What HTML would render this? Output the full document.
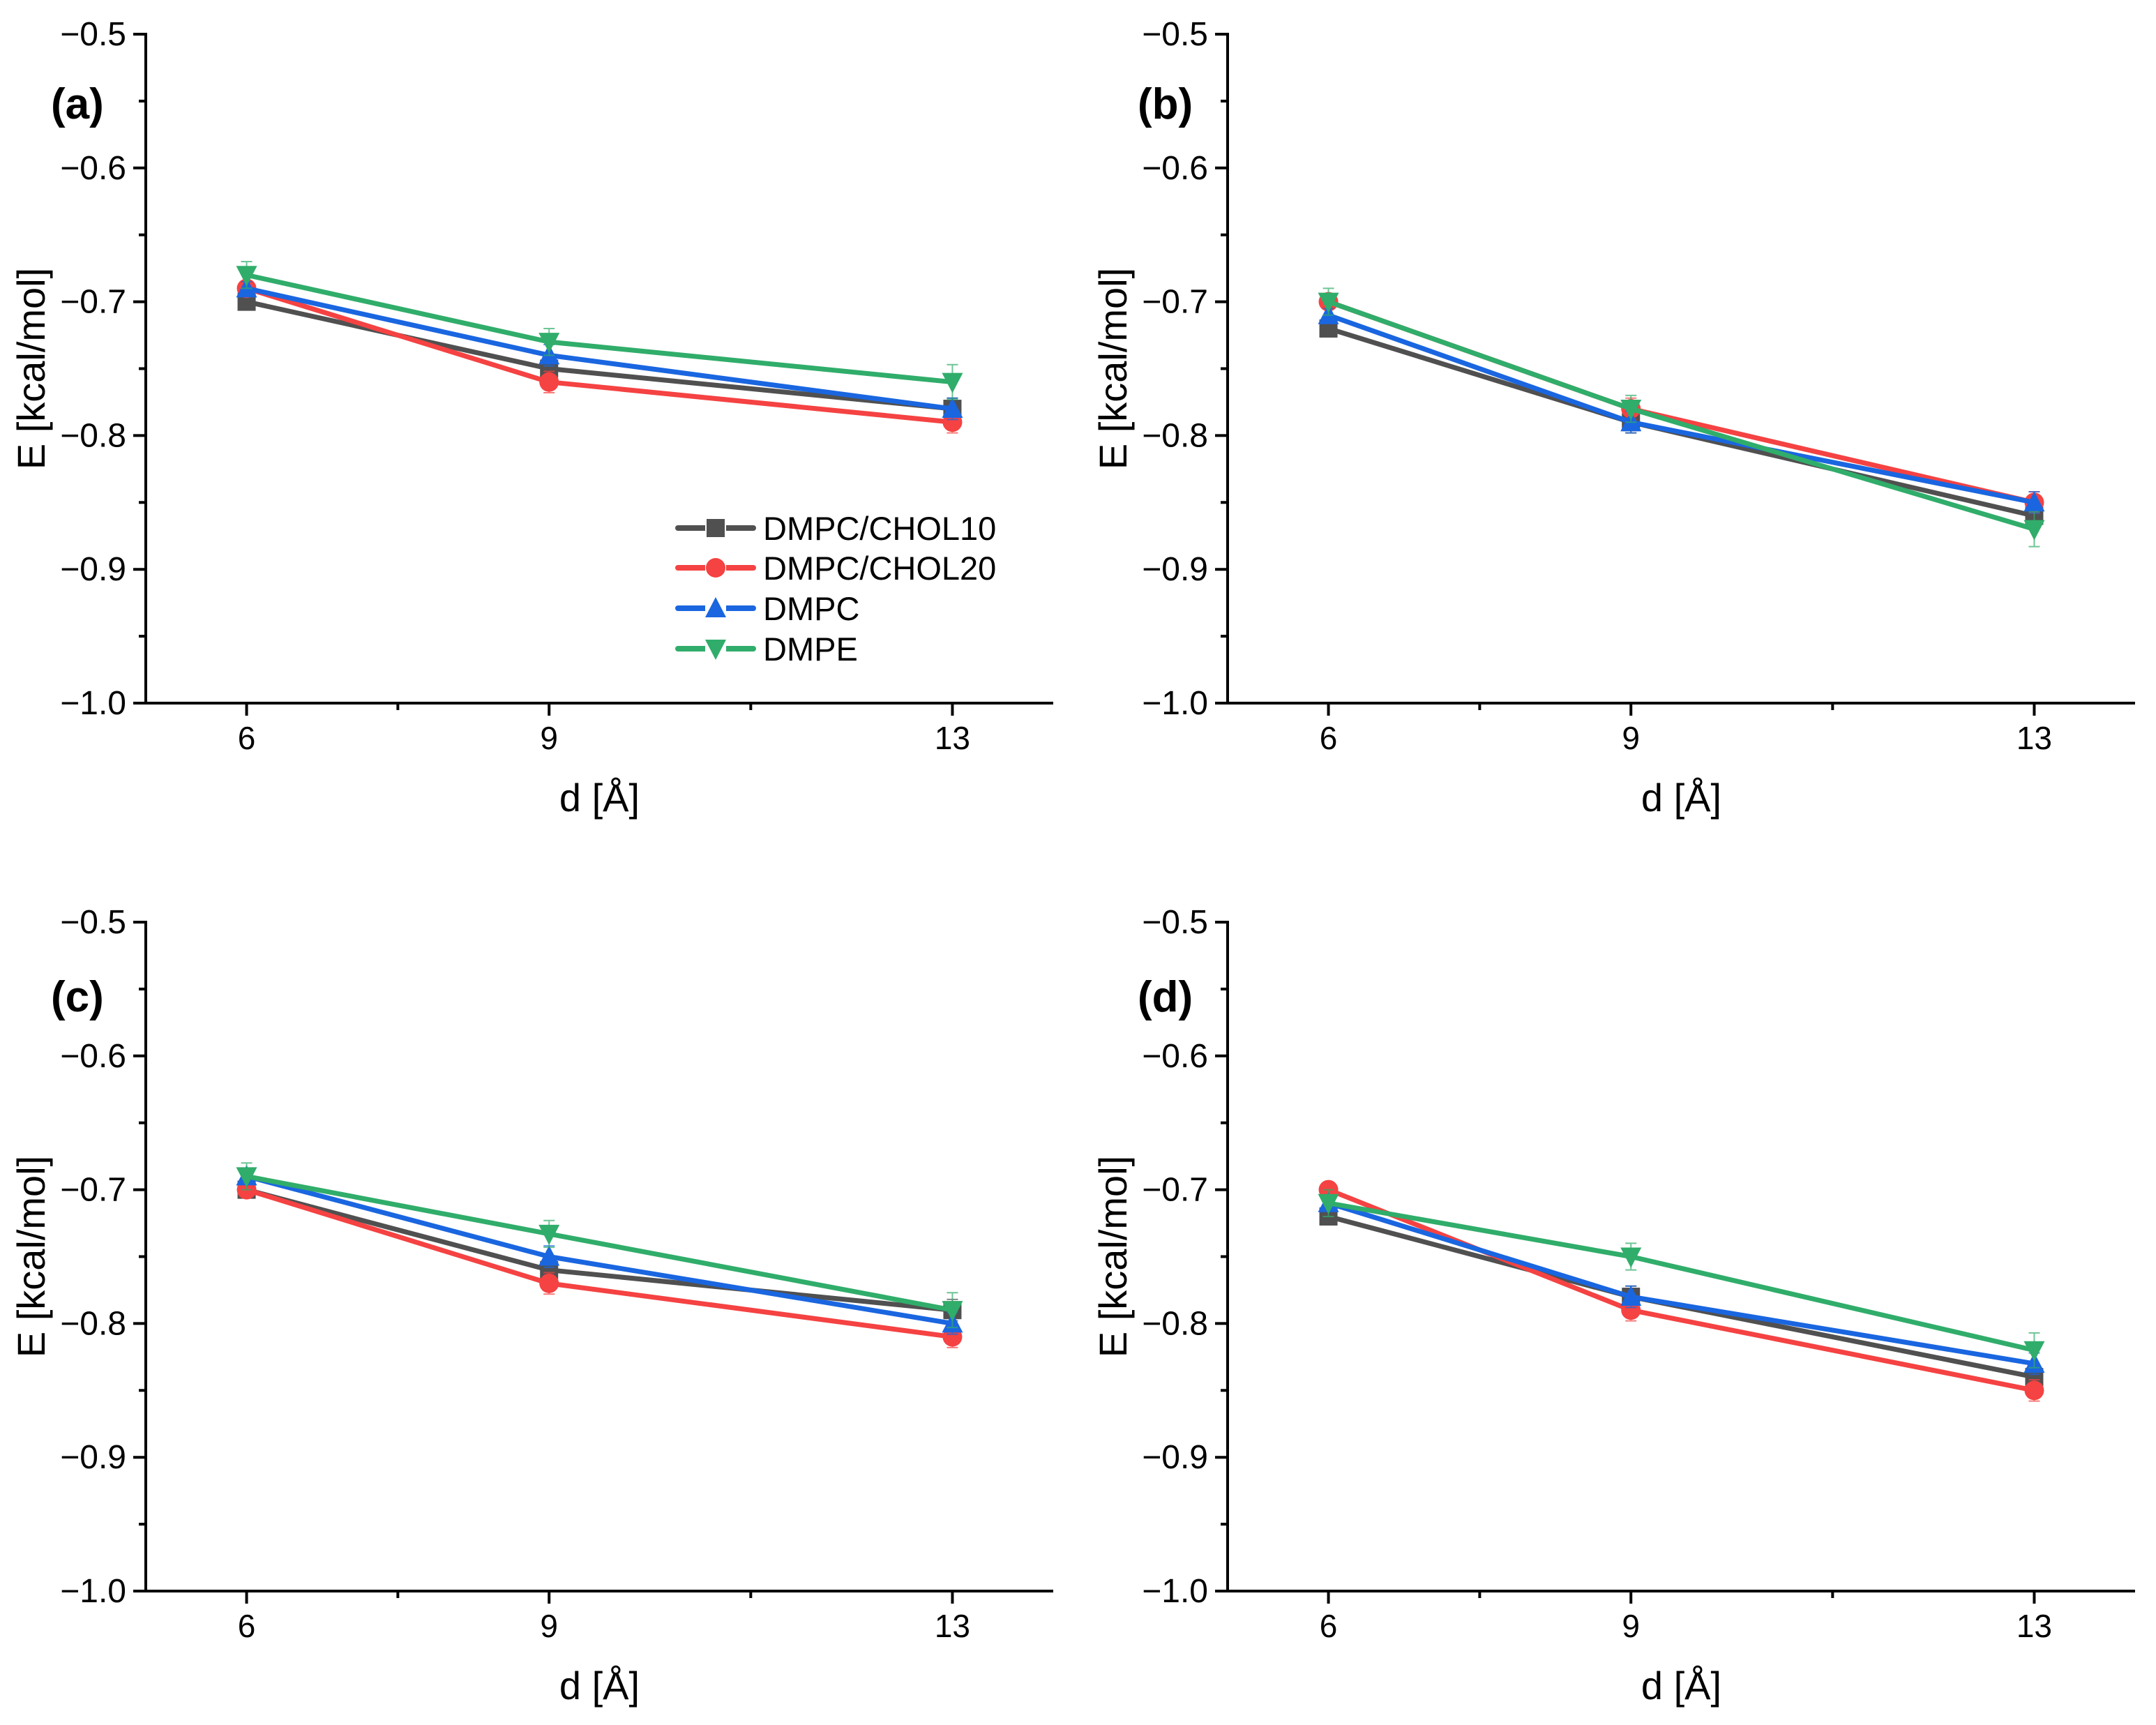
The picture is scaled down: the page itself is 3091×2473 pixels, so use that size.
<!DOCTYPE html>
<html><head><meta charset="utf-8">
<style>
html,body{margin:0;padding:0;background:#fff;}
svg{display:block;font-family:"Liberation Sans",Arial,sans-serif;}
</style></head>
<body>
<svg id="fig" width="3091" height="2473" viewBox="0 0 3091 2473" xmlns="http://www.w3.org/2000/svg"></svg>
<script>
// ---- data ----
const xCategories = [6, 9, 13];
const xTickLabels = ["6", "9", "13"];
const yTickValues = [-1.0, -0.9, -0.8, -0.7, -0.6, -0.5];
const yTickLabels = ["\u22121.0", "\u22120.9", "\u22120.8", "\u22120.7", "\u22120.6", "\u22120.5"];
const seriesNames = ["DMPC/CHOL10", "DMPC/CHOL20", "DMPC", "DMPE"];
const panelLabels = ["(a)", "(b)", "(c)", "(d)"];

const a_chol10 = [-0.70, -0.75, -0.78];
const a_chol20 = [-0.69, -0.76, -0.79];
const a_dmpc   = [-0.69, -0.74, -0.78];
const a_dmpe   = [-0.68, -0.73, -0.76];
const b_chol10 = [-0.72, -0.79, -0.86];
const b_chol20 = [-0.70, -0.78, -0.85];
const b_dmpc   = [-0.71, -0.79, -0.85];
const b_dmpe   = [-0.70, -0.78, -0.87];
const c_chol10 = [-0.70, -0.76, -0.79];
const c_chol20 = [-0.70, -0.77, -0.81];
const c_dmpc   = [-0.69, -0.75, -0.80];
const c_dmpe   = [-0.69, -0.733, -0.79];
const d_chol10 = [-0.72, -0.78, -0.84];
const d_chol20 = [-0.70, -0.79, -0.85];
const d_dmpc   = [-0.71, -0.78, -0.83];
const d_dmpe   = [-0.71, -0.75, -0.82];

const errSmall = [0.005, 0.008, 0.008];
const errDmpe  = [0.01, 0.01, 0.013];

const panelData = [
  [a_chol10, a_chol20, a_dmpc, a_dmpe],
  [b_chol10, b_chol20, b_dmpc, b_dmpe],
  [c_chol10, c_chol20, c_dmpc, c_dmpe],
  [d_chol10, d_chol20, d_dmpc, d_dmpe]
];

// ---- styles / layout ----
const colors = ["#505050", "#f54242", "#1a66e0", "#30ad6a"];
const markers = ["square", "circle", "up", "down"];
const NS = "http://www.w3.org/2000/svg";
const svg = document.getElementById("fig");
const panels = [
  {ox: 0, oy: 0}, {ox: 1551, oy: 0}, {ox: 0, oy: 1273}, {ox: 1551, oy: 1273}
];
const X0 = 5, X1 = 14, Y0 = -1.0, Y1 = -0.5;
const PL = 209, PR = 1510, PT = 49, PB = 1008;

function el(tag, attrs, parent) {
  const e = document.createElementNS(NS, tag);
  for (const k in attrs) e.setAttribute(k, attrs[k]);
  (parent || svg).appendChild(e);
  return e;
}

function marker(g, type, cx, cy, color) {
  const s = 13;
  let m;
  if (type === "square") m = el("rect", {x: cx - s, y: cy - s, width: 2 * s, height: 2 * s, fill: color}, g);
  else if (type === "circle") m = el("circle", {cx: cx, cy: cy, r: s + 1, fill: color}, g);
  else if (type === "up") m = el("polygon", {points: `${cx},${cy - s - 3} ${cx - s - 2},${cy + s} ${cx + s + 2},${cy + s}`, fill: color}, g);
  else m = el("polygon", {points: `${cx},${cy + s + 3} ${cx - s - 2},${cy - s} ${cx + s + 2},${cy - s}`, fill: color}, g);
  return m;
}

panels.forEach((p, pi) => {
  const sx = v => p.ox + PL + (v - X0) / (X1 - X0) * (PR - PL);
  const sy = v => p.oy + PT + (Y1 - v) / (Y1 - Y0) * (PB - PT);
  const g = el("g", {});
  
  

  const ax = el("g", {stroke: "#000", "stroke-width": 4, fill: "none"}, g);
  
  
  el("line", {x1: sx(X0), y1: sy(Y0), x2: sx(X0), y2: sy(Y1) - 2}, ax);
  el("line", {x1: sx(X0) - 2, y1: sy(Y0), x2: sx(X1), y2: sy(Y0)}, ax);

  yTickValues.forEach((v, i) => {
    el("line", {x1: sx(X0) - 18, y1: sy(v), x2: sx(X0), y2: sy(v)}, ax);
    const t = el("text", {x: sx(X0) - 28, y: sy(v) + 16, "text-anchor": "end", "font-size": 48, fill: "#000"}, g);
    t.textContent = yTickLabels[i];
    
    
    if (i < yTickValues.length - 1) {
      const mv = (v + yTickValues[i + 1]) / 2;
      el("line", {x1: sx(X0) - 10, y1: sy(mv), x2: sx(X0), y2: sy(mv)}, ax);
    }
  });
  xCategories.forEach((v, i) => {
    el("line", {x1: sx(v), y1: sy(Y0), x2: sx(v), y2: sy(Y0) + 18}, ax);
    const t = el("text", {x: sx(v), y: sy(Y0) + 66, "text-anchor": "middle", "font-size": 46, fill: "#000"}, g);
    t.textContent = xTickLabels[i];
    
    
  });
  [7.5, 11].forEach(v => el("line", {x1: sx(v), y1: sy(Y0), x2: sx(v), y2: sy(Y0) + 10}, ax));

  const xt = el("text", {x: sx(9.5), y: sy(Y0) + 155, "text-anchor": "middle", "font-size": 56, fill: "#000"}, g);
  xt.textContent = "d [\u00C5]";
  
  
  const yt = el("text", {x: 0, y: 0, "text-anchor": "middle", "font-size": 56, fill: "#000",
    transform: `translate(${p.ox + 64},${sy(-0.75)}) rotate(-90)`}, g);
  yt.textContent = "E [kcal/mol]";
  
  
  const pl = el("text", {x: p.ox + (pi % 2 ? 80 : 73), y: p.oy + (pi < 2 ? 170 : 177), "font-size": 62, "font-weight": "bold", fill: "#000"}, g);
  pl.textContent = panelLabels[pi];
  
  

  panelData[pi].forEach((vals, si) => {
    const sg = el("g", {}, g);
    
    
    const errs = si === 3 ? errDmpe : errSmall;
    vals.forEach((v, k) => {
      const e = el("path", {d: `M${sx(xCategories[k])},${sy(v - errs[k])}V${sy(v + errs[k])}M${sx(xCategories[k]) - 8},${sy(v - errs[k])}h16M${sx(xCategories[k]) - 8},${sy(v + errs[k])}h16`,
        stroke: colors[si], "stroke-width": 2, fill: "none", opacity: 0.7}, sg);
      
      
    });
    const pts = vals.map((v, k) => `${sx(xCategories[k])},${sy(v)}`).join(" ");
    const line = el("polyline", {points: pts, stroke: colors[si], "stroke-width": 7, fill: "none", "stroke-linejoin": "round"}, sg);
    
    
    vals.forEach((v, k) => {
      const m = marker(sg, markers[si], sx(xCategories[k]), sy(v), colors[si]);
      
      
    });
  });
});

const lg = el("g", {});


const legendY = [757, 814, 872, 930];
seriesNames.forEach((n, i) => {
  const eg = el("g", {}, lg);
  
  
  el("line", {x1: 972, y1: legendY[i], x2: 1080, y2: legendY[i], stroke: colors[i], "stroke-width": 8, "stroke-linecap": "round"}, eg);
  el("rect", {x: 1011, y: legendY[i] - 6, width: 30, height: 12, fill: "#fff"}, eg);
  marker(eg, markers[i], 1026, legendY[i], colors[i]);
  const t = el("text", {x: 1094, y: legendY[i] + 17, "font-size": 47, fill: "#000"}, eg);
  t.textContent = n;
});
</script>
</body></html>
